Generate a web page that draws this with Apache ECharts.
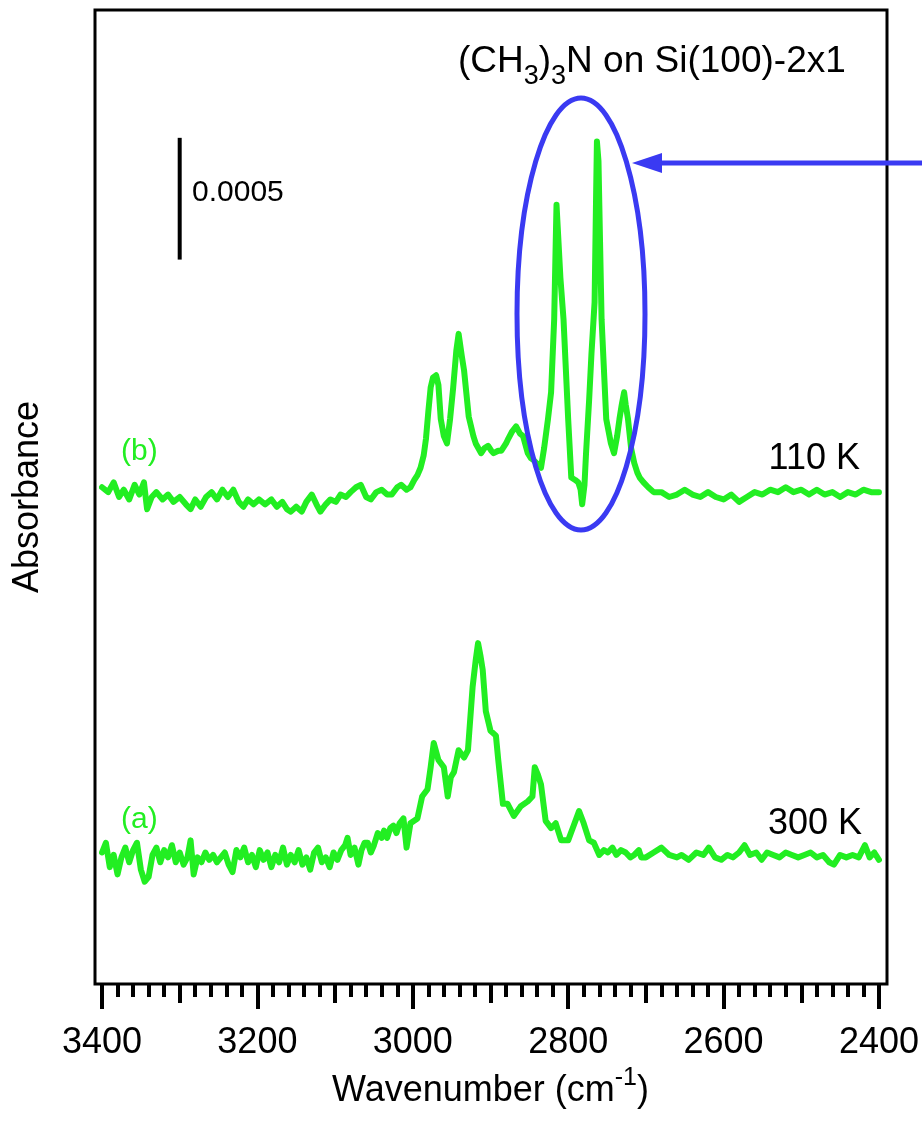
<!DOCTYPE html>
<html>
<head>
<meta charset="utf-8">
<script src="https://cdn.jsdelivr.net/npm/echarts@6/dist/echarts.min.js"></script>
<style>
html, body { margin: 0; padding: 0; background: #fff; }
#chart { width: 922px; height: 1122px; }
</style>
</head>
<body>
<div id="chart"></div>
<script>
// absorbance in units of 1e-5, spectra offset vertically as in the figure
const X_TICKS = [3400, 3200, 3000, 2800, 2600, 2400];
const SCALE_BAR = [[3300, 297.5], [3300, 347.5]];
const SCALE_LABEL = '0.0005';

const trace110K = [
    [3400,204],[3392,202],[3385,206],[3378,200],[3372,203],[3365,199],[3358,205],[3352,201],
    [3346,206],[3342,195],[3336,200],[3330,202],[3322,199],[3315,201],[3308,198],[3300,200],
    [3292,197],[3286,195],[3280,199],[3273,196],[3266,200],[3259,202],[3252,199],[3245,203],
    [3238,200],[3231,203],[3224,198],[3218,196],[3212,199],[3205,197],[3198,199],[3190,197],
    [3182,199],[3175,196],[3168,198],[3162,195],[3157,194],[3150,196],[3143,194],[3137,198],
    [3130,201],[3124,197],[3119,194],[3112,197],[3106,199],[3099,198],[3093,201],[3086,200],
    [3080,202],[3073,204],[3067,205],[3060,200],[3054,199],[3047,202],[3040,203],[3033,201],
    [3027,201],[3020,204],[3015,205],[3008,203],[3003,204],[2998,207],[2994,209],[2990,212],
    [2986,217],[2983,224],[2980,235],[2977,245],[2974,249],[2970,250],[2967,246],[2964,232],
    [2960,225],[2956,222],[2952,232],[2948,245],[2944,260],[2941,267],[2937,258],[2934,252],
    [2928,233],[2922,225],[2919,222],[2912,218],[2908,220],[2903,221],[2899,219],[2896,218],
    [2890,219],[2886,219],[2880,222],[2877,224],[2872,227],[2867,229],[2862,226],[2858,225],
    [2852,218],[2848,216],[2844,215],[2838,213],[2835,212],[2831,220],[2826,232],[2822,243],
    [2818,273],[2816,305],[2815,320],[2813,308],[2810,290],[2806,273],[2800,232],[2796,208],
    [2791,207],[2787,206],[2784,203],[2782,197],[2779,205],[2777,218],[2773,240],[2770,259],
    [2766,280],[2764,325],[2763,346],[2761,338],[2759,305],[2757,273],[2751,232],[2745,222],
    [2741,218],[2737,225],[2734,232],[2731,238],[2728,243],[2726,238],[2723,232],[2719,220],
    [2715,214],[2711,210],[2708,208],[2703,206],[2697,204],[2690,202],[2680,202],[2670,200],
    [2660,201],[2650,203],[2640,201],[2630,200],[2620,202],[2610,200],[2600,199],[2590,201],
    [2580,198],[2570,200],[2560,202],[2550,201],[2540,203],[2530,202],[2520,204],[2510,202],
    [2500,203],[2490,201],[2480,203],[2470,201],[2460,202],[2450,200],[2440,202],[2430,201],
    [2420,203],[2410,202],[2400,202]
];

const trace300K = [
    [3400,54],[3395,58],[3390,48],[3385,53],[3380,45],[3375,52],[3370,56],[3365,50],
    [3360,55],[3355,58],[3350,47],[3345,42],[3340,44],[3335,53],[3330,56],[3325,50],
    [3320,55],[3315,52],[3310,57],[3305,50],[3300,54],[3295,49],[3290,52],[3286,59],
    [3282,45],[3277,52],[3272,50],[3267,54],[3262,51],[3257,53],[3252,50],[3247,52],
    [3242,54],[3237,49],[3232,46],[3227,55],[3222,52],[3217,56],[3212,50],[3207,53],
    [3202,48],[3197,55],[3192,51],[3187,54],[3182,48],[3177,53],[3172,50],[3167,56],
    [3162,49],[3157,53],[3152,50],[3147,55],[3142,49],[3137,52],[3132,47],[3127,54],
    [3122,56],[3117,50],[3112,52],[3107,48],[3102,54],[3097,51],[3092,55],[3087,57],
    [3084,60],[3080,53],[3075,56],[3070,49],[3066,55],[3062,58],[3058,58],[3054,54],
    [3050,57],[3045,62],[3040,60],[3037,63],[3033,60],[3029,64],[3025,65],[3021,62],
    [3017,66],[3012,68],[3008,56],[3003,66],[2994,68],[2988,77],[2981,80],[2977,89],
    [2973,99],[2967,92],[2960,89],[2955,77],[2951,85],[2947,87],[2941,96],[2934,93],
    [2929,96],[2923,122],[2919,133],[2916,140],[2913,135],[2910,129],[2906,112],[2900,104],
    [2893,102],[2890,92],[2884,74],[2878,74],[2870,69],[2861,73],[2852,75],[2846,77],
    [2843,89],[2839,86],[2835,82],[2829,67],[2822,64],[2816,66],[2809,59],[2800,59],
    [2793,65],[2786,71],[2780,66],[2773,59],[2767,58],[2760,53],[2754,55],[2749,54],
    [2743,56],[2738,53],[2732,55],[2726,54],[2720,52],[2715,53],[2709,55],[2706,52],
    [2700,52],[2690,54],[2680,56],[2670,53],[2660,52],[2654,53],
    [2645,51],[2635,54],[2626,53],[2619,56],[2611,52],[2603,51],[2595,53],[2588,52],
    [2580,54],[2573,57],[2566,53],[2558,54],[2551,51],[2544,54],[2536,53],[2528,52],
    [2520,54],[2512,53],[2504,52],[2496,53],[2488,54],[2480,52],[2472,53],[2464,50],
    [2458,49],[2450,53],[2442,52],[2434,53],[2426,52],[2418,57],[2412,52],[2406,54],
    [2400,51]
];

const FONT = '"Liberation Sans", Arial, sans-serif';
const GREEN = '#22ee22';
const BLUE = '#3a3af2';

const chart = echarts.init(document.getElementById('chart'));

const gridRect = { left: 102, right: 43, top: 10, bottom: 138 };

chart.setOption({
    animation: false,
    backgroundColor: '#fff',
    grid: [
        Object.assign({}, gridRect),
        Object.assign({}, gridRect)
    ],
    xAxis: [
        {
            type: 'value', gridIndex: 0,
            min: X_TICKS[X_TICKS.length - 1], max: X_TICKS[0], interval: 200, inverse: true,
            axisLine: { show: false },
            axisTick: { show: true, inside: false, length: 25, lineStyle: { color: '#000', width: 4 } },
            axisLabel: {
                show: true, margin: 41, fontSize: 36, color: '#000', fontFamily: FONT,
                formatter: (v) => String(v)
            },
            splitLine: { show: false },
            name: '{m|Wavenumber (cm}{p|-1}{m|)}',
            nameLocation: 'middle',
            nameGap: 79,
            nameTextStyle: {
                color: '#000', fontFamily: FONT,
                rich: {
                    m: { fontSize: 36, lineHeight: 50, color: '#000', fontFamily: FONT },
                    p: { fontSize: 25, lineHeight: 50, verticalAlign: 'top', color: '#000', fontFamily: FONT }
                }
            }
        },
        {
            type: 'value', gridIndex: 1,
            min: 2400, max: 3400, interval: 100, inverse: true,
            axisLine: { show: false },
            axisTick: { show: true, inside: false, length: 19, lineStyle: { color: '#000', width: 4 } },
            minorTick: { show: true, splitNumber: 5, length: 13, lineStyle: { color: '#000', width: 4 } },
            axisLabel: { show: false },
            splitLine: { show: false }
        }
    ],
    yAxis: [
        {
            type: 'value', gridIndex: 0, min: 0, max: 400,
            axisLine: { show: false }, axisTick: { show: false },
            axisLabel: { show: false }, splitLine: { show: false },
            name: 'Absorbance', nameLocation: 'middle', nameGap: 56,
            nameTextStyle: { fontSize: 36, color: '#000', fontFamily: FONT }
        },
        {
            type: 'value', gridIndex: 1, min: 0, max: 400, show: false
        }
    ],
    series: [
        {
            name: '300 K', type: 'line', xAxisIndex: 0, yAxisIndex: 0,
            data: trace300K, showSymbol: false, silent: true,
            lineStyle: { color: GREEN, width: 6, join: 'round', cap: 'round' }
        },
        {
            name: '110 K', type: 'line', xAxisIndex: 0, yAxisIndex: 0,
            data: trace110K, showSymbol: false, silent: true,
            lineStyle: { color: GREEN, width: 6, join: 'round', cap: 'round' }
        },
        {
            name: 'scale', type: 'line', xAxisIndex: 0, yAxisIndex: 0,
            data: SCALE_BAR, showSymbol: false, silent: true,
            lineStyle: { color: '#000', width: 4 }
        }
    ],
    graphic: [
        // plot frame
        { type: 'rect', z: 5, silent: true,
          shape: { x: 95, y: 10, width: 792, height: 974 },
          style: { fill: null, stroke: '#000', lineWidth: 3 } },
        // highlight ellipse and arrow
        { type: 'ellipse', z: 10, silent: true,
          shape: { cx: 581, cy: 314, rx: 64, ry: 216 },
          style: { fill: null, stroke: BLUE, lineWidth: 5 } },
        { type: 'line', z: 10, silent: true,
          shape: { x1: 922, y1: 163, x2: 655, y2: 163 },
          style: { stroke: BLUE, lineWidth: 5 } },
        { type: 'polygon', z: 10, silent: true,
          shape: { points: [[632, 163], [662, 153], [662, 173]] },
          style: { fill: BLUE } },
        // texts
        { type: 'text', z: 10, silent: true,
          style: {
              x: 458, y: 34, verticalAlign: 'top', fontFamily: FONT, fill: '#000',
              text: '{m|(CH}{s|3}{m|)}{s|3}{m|N on Si(100)-2x1}',
              rich: {
                  m: { fontSize: 37, lineHeight: 54, fontFamily: FONT, fill: '#000' },
                  s: { fontSize: 27, lineHeight: 56, verticalAlign: 'bottom', fontFamily: FONT, fill: '#000' }
              }
          } },
        { type: 'text', z: 10, silent: true,
          style: { x: 192, y: 193, text: SCALE_LABEL, fontSize: 30, fontFamily: FONT, fill: '#000', verticalAlign: 'middle' } },
        { type: 'text', z: 10, silent: true,
          style: { x: 121, y: 452, text: '(b)', fontSize: 30, fontFamily: FONT, fill: GREEN, verticalAlign: 'middle' } },
        { type: 'text', z: 10, silent: true,
          style: { x: 121, y: 820, text: '(a)', fontSize: 30, fontFamily: FONT, fill: GREEN, verticalAlign: 'middle' } },
        { type: 'text', z: 10, silent: true,
          style: { x: 860, y: 459, text: '110 K', fontSize: 36, fontFamily: FONT, fill: '#000', align: 'right', verticalAlign: 'middle' } },
        { type: 'text', z: 10, silent: true,
          style: { x: 862, y: 824, text: '300 K', fontSize: 36, fontFamily: FONT, fill: '#000', align: 'right', verticalAlign: 'middle' } }
    ]
});
</script>
</body>
</html>
